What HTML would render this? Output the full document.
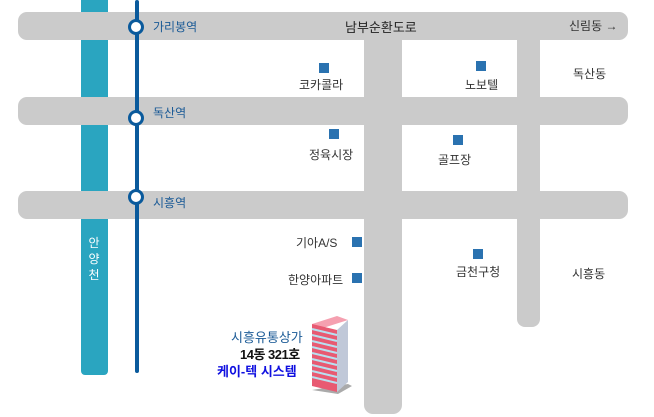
<!DOCTYPE html>
<html><head><meta charset="utf-8"><style>
body{margin:0;width:654px;height:417px;background:#fff;position:relative;overflow:hidden;font-family:"Liberation Sans","Noto Sans CJK KR",sans-serif}
div{position:absolute}
.r{background:#cbcbcb}
.w{background:#2aa5c0;left:81px;width:27px}
.t{font-size:12px;color:#333;white-space:nowrap}
.sq{width:10px;height:10px;background:#2a72b0}
.st{width:10px;height:10px;border:3px solid #0a5a9c;border-radius:50%;background:#fff}
.sl{font-size:12px;color:#1a5a96;white-space:nowrap}
</style></head><body>
<div class="r" style="left:18px;top:12px;width:610px;height:28px;border-radius:9px"></div>
<div class="r" style="left:18px;top:97px;width:610px;height:28px;border-radius:9px"></div>
<div class="r" style="left:18px;top:191px;width:610px;height:28px;border-radius:9px"></div>
<div class="r" style="left:364px;top:12px;width:38px;height:402px;border-radius:0 0 9px 9px"></div>
<div class="r" style="left:517px;top:12px;width:23px;height:315px;border-radius:0 0 8px 8px"></div>
<div class="w" style="top:0;height:12px"></div>
<div class="w" style="top:40px;height:57px"></div>
<div class="w" style="top:125px;height:66px"></div>
<div class="w" style="top:219px;height:156px;border-radius:0 0 4px 4px"></div>
<div style="left:135px;top:0;width:4px;height:373px;background:#0a5a9c;border-radius:2px"></div>
<div class="st" style="left:128px;top:19px"></div>
<div class="st" style="left:128px;top:110px"></div>
<div class="st" style="left:128px;top:189px"></div>
<div class="sl" style="left:153px;top:18px">가리봉역</div>
<div class="sl" style="left:153px;top:104px">독산역</div>
<div class="sl" style="left:153px;top:194px">시흥역</div>
<div style="left:87px;top:235px;width:14px;color:#fff;font-size:12px;line-height:16px;text-align:center">안<br>양<br>천</div>
<div class="t" style="left:345px;top:17px;font-size:13px;color:#222">남부순환도로</div>
<div class="t" style="left:569px;top:17px">신림동 →</div>
<div class="sq" style="left:319px;top:63px"></div><div class="t" style="left:299px;top:76px">코카콜라</div>
<div class="sq" style="left:476px;top:61px"></div><div class="t" style="left:465px;top:76px">노보텔</div>
<div class="t" style="left:573px;top:65px">독산동</div>
<div class="sq" style="left:329px;top:129px"></div><div class="t" style="left:309px;top:146px">정육시장</div>
<div class="sq" style="left:453px;top:135px"></div><div class="t" style="left:438px;top:151px">골프장</div>
<div class="t" style="left:296px;top:234px">기아A/S</div><div class="sq" style="left:352px;top:237px"></div>
<div class="t" style="left:288px;top:271px">한양아파트</div><div class="sq" style="left:352px;top:273px"></div>
<div class="sq" style="left:473px;top:249px"></div><div class="t" style="left:456px;top:263px">금천구청</div>
<div class="t" style="left:572px;top:265px">시흥동</div>
<div class="t" style="left:231px;top:327px;font-size:13px;color:#1a5a96">시흥유통상가</div>
<div class="t" style="left:240px;top:344px;font-size:13px;color:#111;font-weight:bold;letter-spacing:-0.5px">14동 321호</div>
<div class="t" style="left:217px;top:361px;font-size:13px;color:#1010e0;font-weight:bold">케이-텍 시스템</div>
<svg style="position:absolute;left:308px;top:314px" width="48" height="82">
<polygon points="4,76 30,80 44,72 40,70" fill="#aaa"/>
<polygon points="4,10 29,2 40,6 15,14" fill="#f5a0b0"/>
<polygon points="4,10 29,16 29,78 4,72" fill="#e85a72"/>
<polygon points="29,16 40,6 40,68 29,78" fill="#c0c8d8"/>
<g stroke="#b8e0f0" stroke-width="2">
<line x1="4" y1="15" x2="29" y2="21"/><line x1="4" y1="21" x2="29" y2="27"/><line x1="4" y1="27" x2="29" y2="33"/><line x1="4" y1="33" x2="29" y2="39"/><line x1="4" y1="39" x2="29" y2="45"/><line x1="4" y1="45" x2="29" y2="51"/><line x1="4" y1="51" x2="29" y2="57"/><line x1="4" y1="57" x2="29" y2="63"/><line x1="4" y1="63" x2="29" y2="69"/>
</g>
</svg>
</body></html>
